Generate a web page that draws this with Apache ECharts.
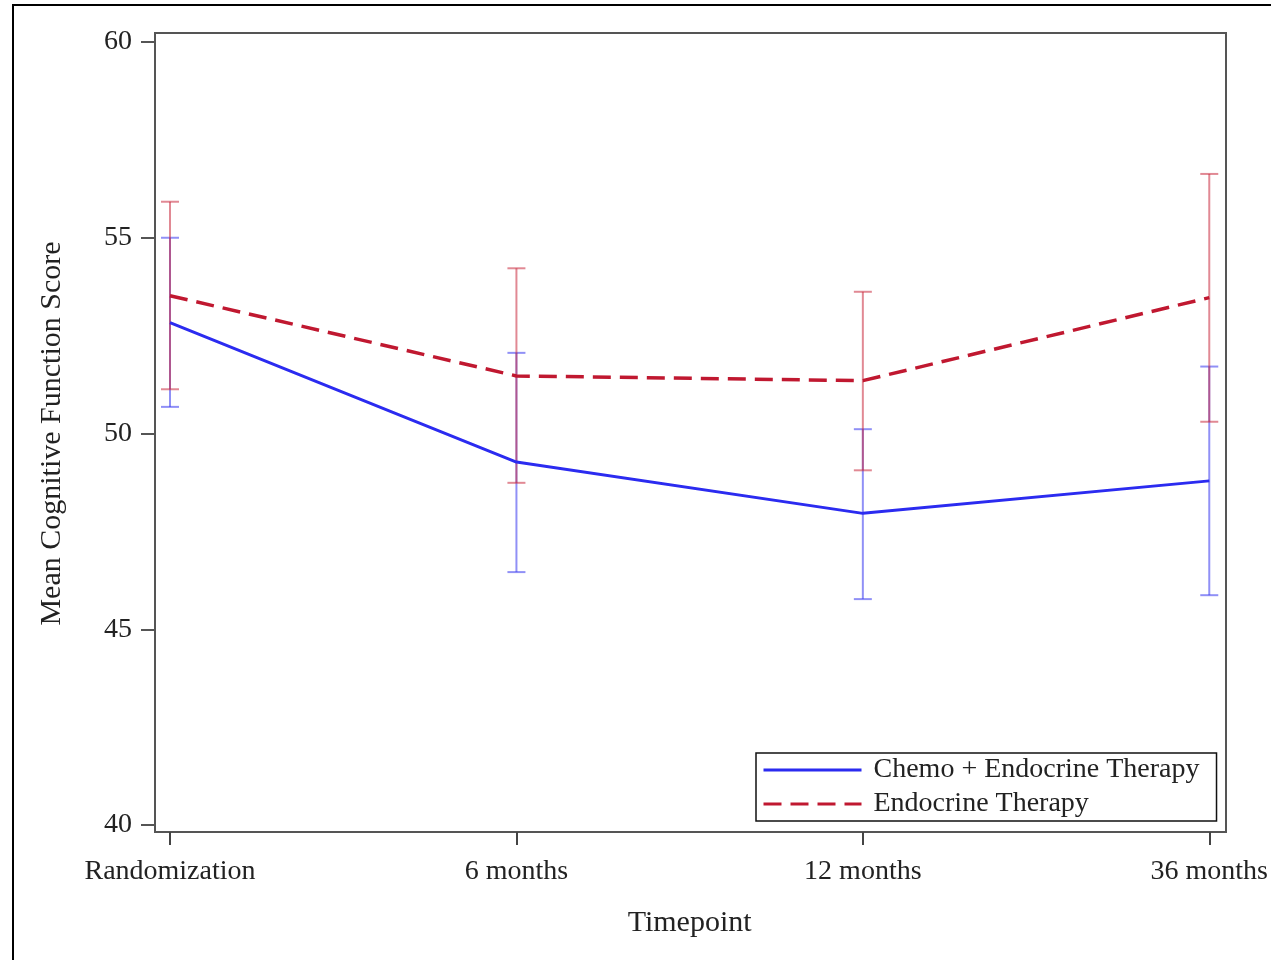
<!DOCTYPE html>
<html>
<head>
<meta charset="utf-8">
<script src="https://cdn.jsdelivr.net/npm/echarts@6/dist/echarts.min.js"></script>
<style>
  html, body { margin: 0; padding: 0; background: #fff; }
  #chart { width: 1271px; height: 960px; }
</style>
</head>
<body>
<div id="chart"></div>
<script>
const timepoints = ['Randomization', '6 months', '12 months', '36 months'];

const chemoMean = [52.83, 49.27, 47.96, 48.79];
const chemoLow = [50.68, 46.46, 45.77, 45.87];
const chemoHigh = [55.0, 52.06, 50.11, 51.71];

const endoMean = [53.52, 51.47, 51.35, 53.47];
const endoLow = [51.13, 48.74, 49.06, 50.3];
const endoHigh = [55.92, 54.22, 53.62, 56.63];

const yTicks = [40, 45, 50, 55, 60];

const serif = '"Liberation Serif", "Times New Roman", serif';
const blue = '#2b2bf0';
const red = '#c01830';

function errorBars(low, high) {
  return low.map((l, i) => [i, l, high[i]]);
}

function renderErrorBar(color) {
  return function (params, api) {
    const top = api.coord([api.value(0), api.value(2)]);
    const bot = api.coord([api.value(0), api.value(1)]);
    const half = 9;
    const style = { stroke: color, lineWidth: 2 };
    return {
      type: 'group',
      children: [
        { type: 'line', shape: { x1: top[0], y1: top[1], x2: bot[0], y2: bot[1] }, style },
        { type: 'line', shape: { x1: top[0] - half, y1: top[1], x2: top[0] + half, y2: top[1] }, style },
        { type: 'line', shape: { x1: bot[0] - half, y1: bot[1], x2: bot[0] + half, y2: bot[1] }, style }
      ]
    };
  };
}

const ec = echarts.init(document.getElementById('chart'));
ec.setOption({
  animation: false,
  backgroundColor: '#fff',
  textStyle: { fontFamily: serif },
  graphic: [
    {
      type: 'rect',
      shape: { x: 13, y: 5, width: 1400, height: 1100 },
      style: { fill: null, stroke: '#000', lineWidth: 2 },
      silent: true
    }
  ],
  grid: [
    { left: 170, right: 61, top: 42, bottom: 135 },
    { left: 155, right: 45, top: 33, bottom: 128, show: true, borderColor: '#555', borderWidth: 2, backgroundColor: 'transparent' }
  ],
  legend: {
    data: ['Chemo + Endocrine Therapy', 'Endocrine Therapy'],
    orient: 'vertical',
    left: 756,
    top: 753,
    padding: [3, 17, 3, 6],
    itemWidth: 98,
    itemHeight: 14,
    itemGap: 6,
    itemStyle: { opacity: 0 },
    lineStyle: { width: 3 },
    borderColor: '#111',
    borderWidth: 1.5,
    backgroundColor: '#fff',
    textStyle: { fontFamily: serif, fontSize: 28, color: '#222', padding: [0, 0, 0, 7] }
  },
  xAxis: [
    {
      type: 'category',
      gridIndex: 0,
      data: timepoints,
      boundaryGap: false,
      offset: 7,
      name: 'Timepoint',
      nameLocation: 'middle',
      nameGap: 76,
      nameTextStyle: { fontFamily: serif, fontSize: 30, color: '#222' },
      axisLine: { show: false },
      axisTick: { show: true, length: 13, lineStyle: { color: '#444', width: 2 } },
      axisLabel: { fontFamily: serif, fontSize: 28, color: '#222', margin: 26, interval: 0 },
      splitLine: { show: false }
    },
    { type: 'value', gridIndex: 1, show: false }
  ],
  yAxis: [
    {
      type: 'value',
      gridIndex: 0,
      min: 40,
      max: 60,
      interval: 5,
      offset: 15,
      name: 'Mean Cognitive Function Score',
      nameLocation: 'middle',
      nameGap: 88,
      nameTextStyle: { fontFamily: serif, fontSize: 30, color: '#222' },
      axisLine: { show: false },
      axisTick: { show: true, length: 14, lineStyle: { color: '#555', width: 2 } },
      axisLabel: {
        fontFamily: serif, fontSize: 28, color: '#222', margin: 23,
        formatter: v => (yTicks.includes(v) ? String(v) : '')
      },
      splitLine: { show: false }
    },
    { type: 'value', gridIndex: 1, show: false }
  ],
  series: [
    {
      type: 'custom',
      name: 'chemoErr',
      xAxisIndex: 0,
      yAxisIndex: 0,
      renderItem: renderErrorBar('rgba(70,70,240,0.6)'),
      encode: { x: 0, y: [1, 2] },
      data: errorBars(chemoLow, chemoHigh),
      z: 2
    },
    {
      type: 'custom',
      name: 'endoErr',
      xAxisIndex: 0,
      yAxisIndex: 0,
      renderItem: renderErrorBar('rgba(200,40,60,0.55)'),
      encode: { x: 0, y: [1, 2] },
      data: errorBars(endoLow, endoHigh),
      z: 2
    },
    {
      type: 'line',
      name: 'Chemo + Endocrine Therapy',
      data: chemoMean,
      symbol: 'none',
      color: blue,
      lineStyle: { color: blue, width: 3 },
      z: 3
    },
    {
      type: 'line',
      name: 'Endocrine Therapy',
      data: endoMean,
      symbol: 'none',
      color: red,
      lineStyle: { color: red, width: 3.5, type: [18, 9] },
      z: 3
    }
  ]
});
</script>
</body>
</html>
